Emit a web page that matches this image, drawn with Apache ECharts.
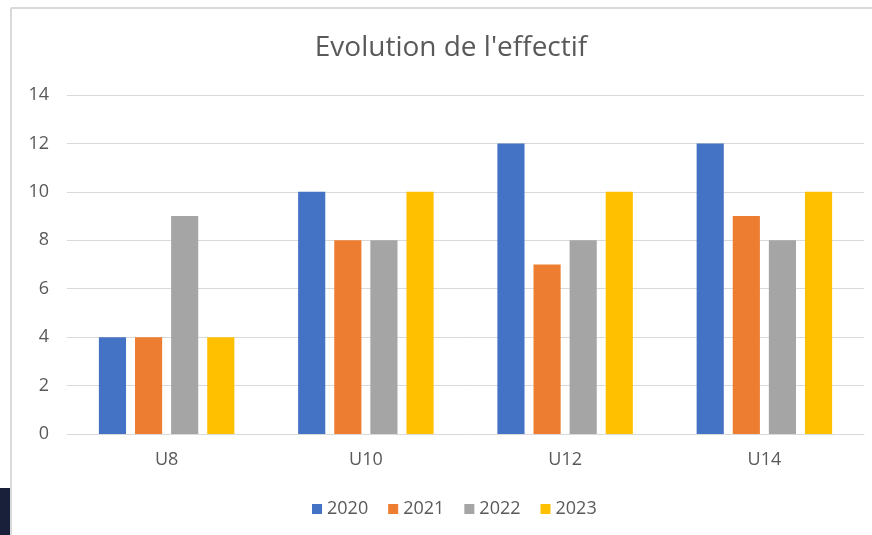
<!DOCTYPE html>
<html>
<head>
<meta charset="utf-8">
<script src="https://cdn.jsdelivr.net/npm/echarts@6/dist/echarts.min.js"></script>
<style>
  html, body { margin: 0; padding: 0; background: #fff; }
  #main { width: 872px; height: 535px; }
</style>
</head>
<body>
<div id="main"></div>
<script>
  // categories and values
  const categories = ['U8', 'U10', 'U12', 'U14']
  const years = ['2020', '2021', '2022', '2023']
  const v2020 = [4, 10, 12, 12]
  const v2021 = [4, 8, 7, 9]
  const v2022 = [9, 8, 8, 8]
  const v2023 = [4, 10, 10, 10]
  const colors = ['#4472C4', '#ED7D31', '#A5A5A5', '#FFC000']
  const yTicks = { min: 0, max: 14, interval: 2 }

  const font = '"Open Sans", "Noto Sans", sans-serif'
  const values = [v2020, v2021, v2022, v2023]

  const chart = echarts.init(document.getElementById('main'))
  chart.setOption({
    animation: false,
    color: colors,
    title: {
      text: "Evolution de l'effectif",
      left: 446,
      top: 29,
      textAlign: 'center',
      textStyle: { color: '#595959', fontSize: 28, fontWeight: 'normal', fontFamily: font }
    },
    legend: {
      data: years,
      left: 307,
      top: 495,
      icon: 'rect',
      itemWidth: 10,
      itemHeight: 10,
      itemGap: 20,
      textStyle: { color: '#595959', fontSize: 18, fontFamily: font }
    },
    grid: { left: 67, right: 8, top: 95, bottom: 101 },
    xAxis: {
      type: 'category',
      data: categories,
      axisLine: { lineStyle: { color: '#d9d9d9', width: 1 } },
      axisTick: { show: false },
      axisLabel: { color: '#595959', fontSize: 18, fontFamily: font, margin: 17 }
    },
    yAxis: {
      type: 'value',
      min: yTicks.min,
      max: yTicks.max,
      interval: yTicks.interval,
      axisLine: { show: false },
      axisTick: { show: false },
      axisLabel: { color: '#595959', fontSize: 18, fontFamily: font, margin: 18 },
      splitLine: { lineStyle: { color: '#d9d9d9', width: 1 } }
    },
    series: years.map((y, i) => ({
      name: y,
      type: 'bar',
      data: values[i],
      barGap: '33%',
      barCategoryGap: '32%'
    })),
    graphic: [
      // cadre du graphique et bout de fond sombre (capture d'écran)
      { type: 'line', shape: { x1: 11, y1: 8, x2: 872, y2: 8 }, style: { stroke: '#d9d9d9', lineWidth: 2 } },
      { type: 'line', shape: { x1: 11, y1: 8, x2: 11, y2: 535 }, style: { stroke: '#d9d9d9', lineWidth: 2 } },
      { type: 'rect', shape: { x: 0, y: 488, width: 10, height: 47 }, style: { fill: '#18203a' } }
    ]
  })
</script>
</body>
</html>
